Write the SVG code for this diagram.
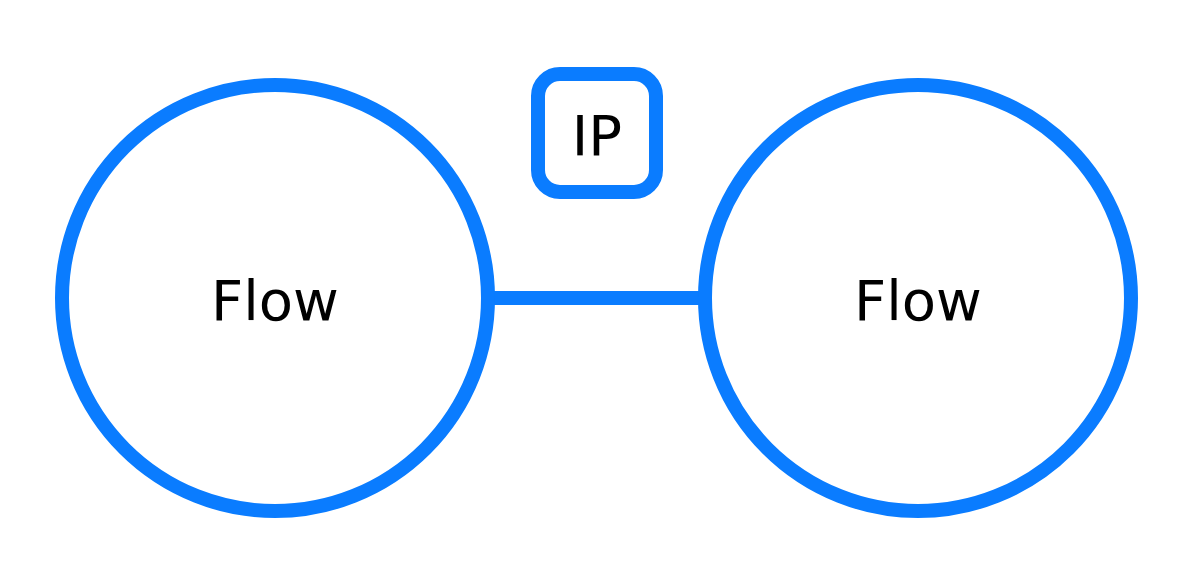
<svg xmlns="http://www.w3.org/2000/svg" width="1200" height="580" viewBox="0 0 1200 580">
<style>
.n{fill:#fff;stroke:#0a7cff;stroke-width:14}
.t{font-family:"DejaVu Sans",sans-serif;font-size:56px;fill:#000;text-anchor:middle;dominant-baseline:central}
.c{stroke:#0a7cff;stroke-width:14;fill:none}
</style>
<rect width="1200" height="580" fill="#fff"/>
<g id="connectors"><line class="c" x1="488" y1="298" x2="705" y2="298"/></g>
<g id="flow1"><circle class="n" cx="275" cy="298" r="213"/><text class="t" x="275" y="300">Flow</text></g>
<g id="flow2"><circle class="n" cx="918" cy="298" r="213"/><text class="t" x="918" y="300">Flow</text></g>
<g id="ip"><rect class="n" x="538" y="74" width="118" height="118" rx="22"/><text class="t" x="597" y="135">IP</text></g>
</svg>
